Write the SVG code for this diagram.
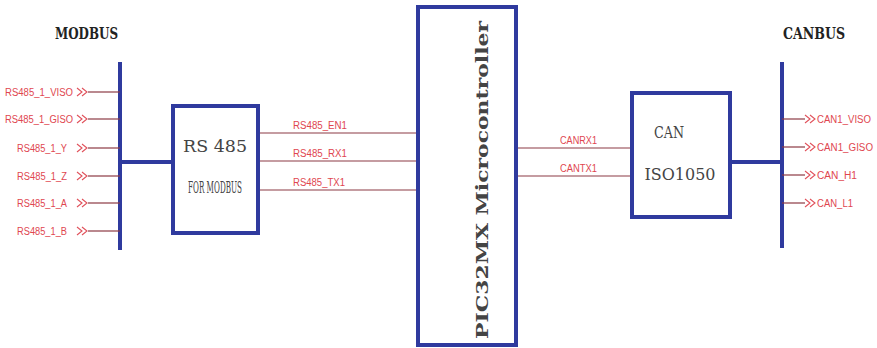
<svg xmlns="http://www.w3.org/2000/svg" width="877" height="348" viewBox="0 0 877 348">
<style>
.box{fill:#fff;stroke:#2f3a9e;stroke-width:4}
.bus{stroke:#2f3a9e;stroke-width:4;fill:none}
.wire{stroke:#8c3a44;stroke-width:1.2;fill:none}
.chev{stroke:#e0505a;stroke-width:1.1;fill:none}
.sig{font-family:"Liberation Sans",Arial,sans-serif;font-size:10px;fill:#e0464f}
.title{font-family:"DejaVu Serif","Liberation Serif",serif;font-weight:bold;font-size:17px;fill:#222}
.lbl{font-family:"DejaVu Serif","Liberation Serif",serif;font-size:17px;fill:#444}
</style>
<rect width="877" height="348" fill="#fff"/>
<text class="title" x="55" y="39" textLength="63" lengthAdjust="spacingAndGlyphs">MODBUS</text>
<text class="title" x="783" y="39" textLength="62" lengthAdjust="spacingAndGlyphs">CANBUS</text>

<g id="connectors">
<line class="bus" x1="120" y1="62" x2="120" y2="250"/>
<line class="bus" x1="120" y1="162" x2="173" y2="162"/>
<line class="bus" x1="782" y1="62" x2="782" y2="248"/>
<line class="bus" x1="730" y1="162" x2="782" y2="162"/>
<g class="wire">
<line x1="88" y1="92" x2="120" y2="92"/>
<line x1="88" y1="119" x2="120" y2="119"/>
<line x1="88" y1="148" x2="120" y2="148"/>
<line x1="88" y1="176" x2="120" y2="176"/>
<line x1="88" y1="203" x2="120" y2="203"/>
<line x1="88" y1="231" x2="120" y2="231"/>
<line x1="258" y1="133" x2="418" y2="133"/>
<line x1="258" y1="161" x2="418" y2="161"/>
<line x1="258" y1="190" x2="418" y2="190"/>
<line x1="516" y1="148" x2="632" y2="148"/>
<line x1="516" y1="176" x2="632" y2="176"/>
<line x1="782" y1="119" x2="805" y2="119"/>
<line x1="782" y1="147" x2="805" y2="147"/>
<line x1="782" y1="175" x2="805" y2="175"/>
<line x1="782" y1="203" x2="805" y2="203"/>
</g>
<g class="chev">
<path d="M77,88 l5,4 l-5,4 M82,88 l5,4 l-5,4"/>
<path d="M77,115 l5,4 l-5,4 M82,115 l5,4 l-5,4"/>
<path d="M77,144 l5,4 l-5,4 M82,144 l5,4 l-5,4"/>
<path d="M77,172 l5,4 l-5,4 M82,172 l5,4 l-5,4"/>
<path d="M77,199 l5,4 l-5,4 M82,199 l5,4 l-5,4"/>
<path d="M77,227 l5,4 l-5,4 M82,227 l5,4 l-5,4"/>
<path d="M805,115 l5,4 l-5,4 M810,115 l5,4 l-5,4"/>
<path d="M805,143 l5,4 l-5,4 M810,143 l5,4 l-5,4"/>
<path d="M805,171 l5,4 l-5,4 M810,171 l5,4 l-5,4"/>
<path d="M805,199 l5,4 l-5,4 M810,199 l5,4 l-5,4"/>
</g>
<text class="sig" x="5" y="96" textLength="68" lengthAdjust="spacingAndGlyphs">RS485_1_VISO</text>
<text class="sig" x="5" y="123" textLength="68" lengthAdjust="spacingAndGlyphs">RS485_1_GISO</text>
<text class="sig" x="17" y="152" textLength="50" lengthAdjust="spacingAndGlyphs">RS485_1_Y</text>
<text class="sig" x="17" y="180" textLength="50" lengthAdjust="spacingAndGlyphs">RS485_1_Z</text>
<text class="sig" x="17" y="207" textLength="50" lengthAdjust="spacingAndGlyphs">RS485_1_A</text>
<text class="sig" x="17" y="235" textLength="50" lengthAdjust="spacingAndGlyphs">RS485_1_B</text>
<text class="sig" x="293" y="129" textLength="54" lengthAdjust="spacingAndGlyphs">RS485_EN1</text>
<text class="sig" x="293" y="157" textLength="54" lengthAdjust="spacingAndGlyphs">RS485_RX1</text>
<text class="sig" x="293" y="186" textLength="52" lengthAdjust="spacingAndGlyphs">RS485_TX1</text>
<text class="sig" x="560" y="144" textLength="37" lengthAdjust="spacingAndGlyphs">CANRX1</text>
<text class="sig" x="560" y="172" textLength="37" lengthAdjust="spacingAndGlyphs">CANTX1</text>
<text class="sig" x="817" y="123" textLength="54" lengthAdjust="spacingAndGlyphs">CAN1_VISO</text>
<text class="sig" x="817" y="151" textLength="56" lengthAdjust="spacingAndGlyphs">CAN1_GISO</text>
<text class="sig" x="817" y="179" textLength="40" lengthAdjust="spacingAndGlyphs">CAN_H1</text>
<text class="sig" x="817" y="207" textLength="36" lengthAdjust="spacingAndGlyphs">CAN_L1</text>
</g>

<g id="rs485">
<rect class="box" x="173" y="106" width="85" height="127"/>
<text class="lbl" x="215" y="152" text-anchor="middle" font-size="18" textLength="64" lengthAdjust="spacingAndGlyphs">RS 485</text>
<text class="lbl" x="215" y="193" text-anchor="middle" font-size="8" textLength="54" lengthAdjust="spacingAndGlyphs">FOR MODBUS</text>
</g>

<g id="pic32mx">
<rect class="box" x="418" y="7" width="98" height="338"/>
<text class="lbl" transform="translate(488,180) rotate(-90)" text-anchor="middle" font-size="22" font-weight="bold" fill="#333" textLength="318" lengthAdjust="spacingAndGlyphs">PIC32MX Microcontroller</text>
</g>

<g id="can">
<rect class="box" x="632" y="93" width="98" height="124"/>
<text class="lbl" x="669" y="138" text-anchor="middle" textLength="30" lengthAdjust="spacingAndGlyphs">CAN</text>
<text class="lbl" x="680" y="180" text-anchor="middle" textLength="71" lengthAdjust="spacingAndGlyphs">ISO1050</text>
</g>
</svg>
